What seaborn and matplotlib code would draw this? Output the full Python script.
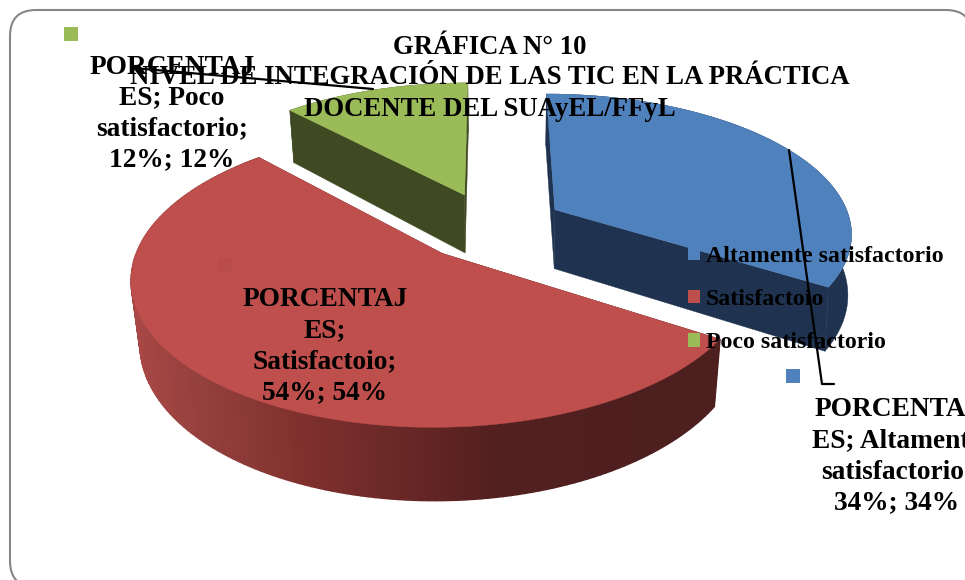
import numpy as np
import matplotlib
matplotlib.use("Agg")
import matplotlib.pyplot as plt
from matplotlib.patches import FancyBboxPatch, Patch
import seaborn as sns

# ---- data ----
categories = ["Altamente satisfactorio", "Satisfactoio", "Poco satisfactorio"]
values = [34, 54, 12]
series_name = "PORCENTAJES"

# ---- colours ----
top_colors = ["#4F81BD", "#BE4F4C", "#9BBB59"]
side_colors = ["#1F3350", "#5A2222", "#404A22"]
red_wall_x = [130, 200, 300, 400, 500, 720]
red_wall_r = [0.66, 0.58, 0.50, 0.41, 0.32, 0.30]
red_wall_g = [0.28, 0.25, 0.19, 0.155, 0.125, 0.12]
red_wall_b = [0.27, 0.24, 0.18, 0.15, 0.12, 0.12]

# ---- pie geometry in pixels ----
VX, Y0, FX, GY, KP, EXPLODE, DEPTH, DX = 490, 226, 297, 138, 0.153, 0.25, 60, 1
SHRINK = [0.99, 0.975, 0.98]

sns.set_theme(style="white")
plt.rcParams["font.family"] = ["Liberation Serif", "DejaVu Serif"]
plt.rcParams["font.weight"] = "bold"

fig = plt.figure(figsize=(9.65, 5.8), dpi=100)
ax = fig.add_axes([0, 0, 1, 1])
ax.set_xlim(0, 965)
ax.set_ylim(580, 0)
ax.axis("off")

ax.add_patch(FancyBboxPatch((36, 36), 910, 525, boxstyle="round,pad=26,rounding_size=26",
                            fc="white", ec="#868686", lw=1.5, zorder=0, clip_on=True))


def project(X, Y):
    s = 1 / (1 + KP * Y)
    return VX + (DX + FX * X) * s, Y0 - GY * Y * s, s


def lower(x, y, s, shrink):
    return VX + (x - VX) * shrink, y + DEPTH * s


total = sum(values)
edges = np.concatenate([[0], np.cumsum(values)]) / total * 2 * np.pi
order = [2, 0, 1]
for i in order:
    a0, a1 = edges[i], edges[i + 1]
    mid = (a0 + a1) / 2
    ex, ey = EXPLODE * np.sin(mid), EXPLODE * np.cos(mid)
    th = np.linspace(a0, a1, 160)
    X = ex + np.sin(th)
    Y = ey + np.cos(th)
    px, py, ps = project(X, Y)
    ax_, ay_, as_ = project(ex, ey)
    bx, by = lower(px, py, ps, SHRINK[i])
    abx, aby = lower(ax_, ay_, as_, SHRINK[i])
    # cut faces
    for k in (0, -1):
        ax.fill([ax_, px[k], bx[k], abx], [ay_, py[k], by[k], aby],
                color=side_colors[i], lw=0.3, zorder=2 + i * 0.1)
    # outer wall
    if i == 1:
        for k in range(len(th) - 1):
            xm = (px[k] + px[k + 1]) / 2
            col = (np.interp(xm, red_wall_x, red_wall_r),
                   np.interp(xm, red_wall_x, red_wall_g),
                   np.interp(xm, red_wall_x, red_wall_b))
            ax.fill([px[k], px[k + 1], bx[k + 1], bx[k]], [py[k], py[k + 1], by[k + 1], by[k]],
                    color=col, lw=1.0, zorder=2 + i * 0.1)
    else:
        ax.fill(np.r_[px, bx[::-1]], np.r_[py, by[::-1]], color=side_colors[i], lw=0.3,
                zorder=2 + i * 0.1)
    # top face
    ax.fill(np.r_[ax_, px], np.r_[ay_, py], color=top_colors[i], lw=0.3, zorder=2.05 + i * 0.1)

# leader lines
ax.plot([133, 373], [68, 89], color="black", lw=1.6, zorder=4)
ax.plot([789, 822, 834], [150, 384, 384], color="black", lw=1.6, zorder=4)

# key squares of the data labels
key_pos = [(793, 376), (225, 265), (71, 34)]
key_colors = [top_colors[0], "#B94C49", top_colors[2]]
for (kx, ky), c in zip(key_pos, key_colors):
    ax.fill([kx - 7, kx + 7, kx + 7, kx - 7], [ky - 7, ky - 7, ky + 7, ky + 7], color=c, lw=0, zorder=4)

# data labels
LABEL_SIZE = 19.7
TITLE_SIZE = 19.3
line_h = 30.8


def label(cx, cy0, lines):
    for n, t in enumerate(lines):
        ax.text(cx, cy0 + n * line_h, t, ha="center", va="center", fontsize=LABEL_SIZE,
                fontweight="bold", color="black", zorder=6)


pct = [f"{v}%; {v}%" for v in values]
label(897, 410, ["PORCENTAJ", "ES; Altamente", "satisfactorio;", pct[0]])
label(325, 300, ["PORCENTAJ", "ES;", "Satisfactoio;", pct[1]])
label(172, 67, ["PORCENTAJ", "ES; Poco", "satisfactorio;", pct[2]])

# title
for n, t in enumerate(["GRÁFICA N° 10", "NIVEL DE INTEGRACIÓN DE LAS TIC EN LA PRÁCTICA",
                       "DOCENTE DEL SUAyEL/FFyL"]):
    ax.text(490, 47 + n * 31, t, ha="center", va="center", fontsize=TITLE_SIZE,
            fontweight="bold", color="black", zorder=6)

# legend
handles = [Patch(facecolor=c, edgecolor="none") for c in top_colors]
leg = ax.legend(handles, categories, loc="upper left", bbox_to_anchor=(688 / 965, 1 - 246 / 580),
                frameon=False, fontsize=17.2, labelcolor="black", handlelength=0.5, handleheight=0.5,
                handletextpad=0.25, labelspacing=0.925, borderpad=0, borderaxespad=0)
leg.set_zorder(7)

fig.savefig("out.png", dpi=100)
